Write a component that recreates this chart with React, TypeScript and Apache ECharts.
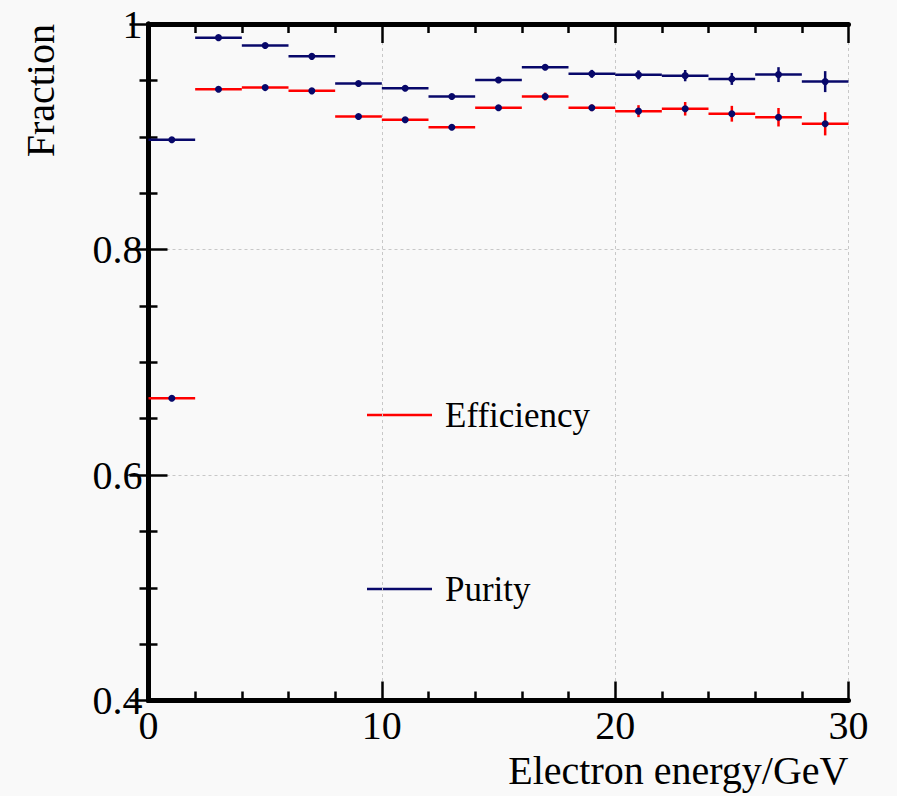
import React, { useEffect, useRef } from "react";
import * as echarts from "echarts";

const binCenters = [1, 3, 5, 7, 9, 11, 13, 15, 17, 19, 21, 23, 25, 27, 29];
const binHalfWidth = 1;
const purity = [0.8973, 0.9879, 0.981, 0.9713, 0.9472, 0.943, 0.9357, 0.9504, 0.9616, 0.9558, 0.9549, 0.9542, 0.9513, 0.9551, 0.9489];
const purityErr = [0.001, 0.001, 0.001, 0.001, 0.001, 0.001, 0.0012, 0.002, 0.002, 0.0035, 0.004, 0.005, 0.0053, 0.0066, 0.0093];
const efficiency = [0.6681, 0.9421, 0.9436, 0.9407, 0.918, 0.915, 0.9085, 0.9257, 0.9357, 0.9257, 0.9227, 0.9248, 0.9204, 0.9173, 0.9115];
const efficiencyErr = [0.001, 0.001, 0.001, 0.0012, 0.0012, 0.0012, 0.0015, 0.002, 0.0035, 0.003, 0.0053, 0.006, 0.007, 0.0082, 0.0103];
const xTicks = [0, 10, 20, 30];
const yTicks = [0.4, 0.6, 0.8, 1];

const RED = "#ff0000";
const NAVY = "#08086a";
const FONT = "'Liberation Serif', 'DejaVu Serif', serif";

function makeSeries(name: string, vals: number[], errs: number[], color: string) {
  return {
    type: "custom",
    name,
    xAxisIndex: 0,
    yAxisIndex: 0,
    data: binCenters.map((c, i) => [c, vals[i], errs[i]]),
    renderItem: (params: any, api: any) => {
      const x = api.value(0);
      const y = api.value(1);
      const e = api.value(2);
      const pl = api.coord([x - binHalfWidth, y]);
      const pr = api.coord([x + binHalfWidth, y]);
      const pt = api.coord([x, y + e]);
      const pb = api.coord([x, y - e]);
      return {
        type: "group",
        children: [
          { type: "line", shape: { x1: pl[0], y1: pl[1], x2: pr[0], y2: pr[1] }, style: { stroke: color, lineWidth: 2.5 } },
          { type: "line", shape: { x1: pt[0], y1: pt[1], x2: pb[0], y2: pb[1] }, style: { stroke: color, lineWidth: 2.5 } },
          { type: "circle", shape: { cx: pl[0] + (pr[0] - pl[0]) / 2, cy: pl[1], r: 3.5 }, style: { fill: NAVY } },
        ],
      };
    },
  };
}

export default function App() {
  const ref = useRef<HTMLDivElement>(null);
  useEffect(() => {
    const chart = echarts.init(ref.current!, null, { renderer: "svg" });
    const axisLine = { show: true, lineStyle: { color: "#000", width: 5 } };
    const splitLine = { show: true, lineStyle: { color: "#c8c8c8", width: 1, type: [3, 3] } };
    chart.setOption({
      animation: false,
      backgroundColor: "#f9f9f9",
      grid: { left: 148.5, right: 48.5, top: 24, bottom: 95.5 },
      xAxis: [
        {
          type: "value",
          min: 0,
          max: 30,
          interval: 10,
          position: "bottom",
          axisLine,
          axisTick: { show: true, inside: true, length: 19, lineStyle: { color: "#000", width: 2.5 } },
          minorTick: { show: true, splitNumber: 5, length: 9, lineStyle: { color: "#000", width: 2.5 } },
          splitLine,
          axisLabel: {
            show: true,
            margin: 5,
            fontFamily: FONT,
            fontSize: 40,
            color: "#000",
            customValues: xTicks,
            formatter: (v: number) => String(v),
          },
          name: "Electron energy/GeV",
          nameLocation: "end",
          nameGap: 0,
          nameTextStyle: { fontFamily: FONT, fontSize: 40, color: "#000", align: "right", verticalAlign: "top", padding: [50, 0, 0, 0] },
        },
        {
          type: "value",
          min: 0,
          max: 30,
          interval: 10,
          position: "top",
          axisLine,
          axisTick: { show: true, inside: true, length: 19, lineStyle: { color: "#000", width: 2.5 } },
          minorTick: { show: true, splitNumber: 5, length: 9, lineStyle: { color: "#000", width: 2.5 } },
          splitLine: { show: false },
          axisLabel: { show: false },
        },
      ],
      yAxis: [
        {
          type: "value",
          min: 0.4,
          max: 1,
          interval: 0.2,
          position: "left",
          axisLine,
          axisTick: { show: true, inside: true, length: 19, lineStyle: { color: "#000", width: 2.5 } },
          minorTick: { show: true, splitNumber: 4, length: 9, lineStyle: { color: "#000", width: 2.5 } },
          splitLine,
          axisLabel: {
            show: true,
            margin: 6,
            fontFamily: FONT,
            fontSize: 40,
            color: "#000",
            customValues: yTicks,
            formatter: (v: number) => (Math.abs(v - 1) < 1e-9 ? "1" : v.toFixed(1)),
          },
          name: "Fraction",
          nameLocation: "end",
          nameGap: 0,
          nameRotate: 90,
          nameTextStyle: { fontFamily: FONT, fontSize: 40, color: "#000", align: "right", verticalAlign: "bottom", padding: [0, 0, 88, 0] },
        },
        {
          type: "value",
          min: 0.4,
          max: 1,
          interval: 0.2,
          position: "right",
          axisLine,
          axisTick: { show: true, inside: true, length: 19, lineStyle: { color: "#000", width: 2.5 } },
          minorTick: { show: true, splitNumber: 4, length: 9, lineStyle: { color: "#000", width: 2.5 } },
          splitLine: { show: false },
          axisLabel: { show: false },
        },
      ],
      graphic: [
        { type: "line", shape: { x1: 367, y1: 415, x2: 432, y2: 415 }, style: { stroke: RED, lineWidth: 2.5 } },
        { type: "text", x: 445, y: 415, style: { text: "Efficiency", font: `35px ${FONT}`, fill: "#000", textVerticalAlign: "middle" } },
        { type: "line", shape: { x1: 367, y1: 589, x2: 432, y2: 589 }, style: { stroke: NAVY, lineWidth: 2.5 } },
        { type: "text", x: 445, y: 589, style: { text: "Purity", font: `35px ${FONT}`, fill: "#000", textVerticalAlign: "middle" } },
      ],
      series: [
        makeSeries("Efficiency", efficiency, efficiencyErr, RED),
        makeSeries("Purity", purity, purityErr, NAVY),
      ],
    });
    return () => chart.dispose();
  }, []);
  return <div ref={ref} style={{ position: "fixed", left: 0, top: 0, width: 897, height: 796 }} />;
}
